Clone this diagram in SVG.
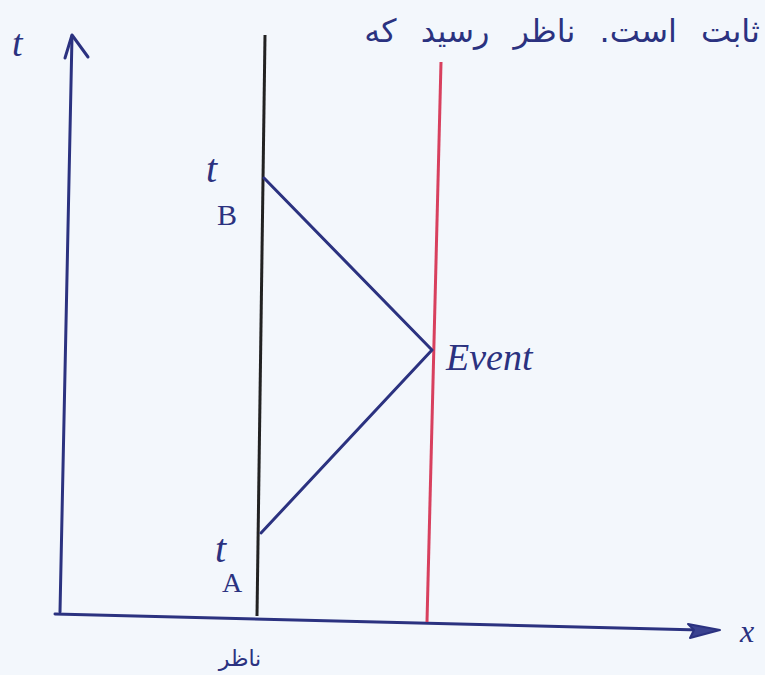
<svg xmlns="http://www.w3.org/2000/svg" width="765" height="675" viewBox="0 0 765 675">
<style>
.ink{stroke:#2b3280;stroke-width:3;fill:none;stroke-linecap:round;stroke-linejoin:round}
.lbl{fill:#2b3280;font-family:"Liberation Serif",serif;font-style:italic}
.up{font-style:normal}
.fa{fill:#2b3280;font-family:"DejaVu Sans",sans-serif}
</style>
<rect width="765" height="675" fill="#f3f7fc"/>
<g id="connectors">
  <path class="ink" d="M72,36 L60,612"/>
  <path class="ink" d="M72,35 L65,58 M72,35 L88,57"/>
  <path class="ink" d="M55,614 L700,630"/>
  <path d="M688,624 L720,630 L690,638 L694,630 Z" fill="#3a4290" stroke="#2b3280" stroke-width="2" stroke-linejoin="round"/>
  <path d="M265,35 L257,616" stroke="#222" stroke-width="3" fill="none"/>
  <path d="M441,62 L427,622" stroke="#d8405e" stroke-width="3" fill="none"/>
  <path class="ink" d="M264,178 L432,350 L261,533"/>
</g>
<g id="axis-t"><text class="lbl" x="12" y="56" font-size="38">t</text></g>
<g id="axis-x"><text class="lbl" x="740" y="642" font-size="32">x</text></g>
<g id="tB"><text class="lbl" x="206" y="182" font-size="40">t</text><text class="lbl up" x="217" y="225" font-size="30">B</text></g>
<g id="tA"><text class="lbl" x="215" y="562" font-size="40">t</text><text class="lbl up" x="222" y="592" font-size="28">A</text></g>
<g id="event"><text class="lbl" x="446" y="370" font-size="38">Event</text></g>
<g id="top-note"><text class="fa" x="760" y="42" font-size="32" word-spacing="14" text-anchor="start" direction="rtl" unicode-bidi="embed">ثابت است. ناظر رسید که</text></g>
<g id="observer"><text class="fa" x="240" y="666" font-size="22" text-anchor="middle" fill="#222" direction="rtl" unicode-bidi="embed">ناظر</text></g>
</svg>
